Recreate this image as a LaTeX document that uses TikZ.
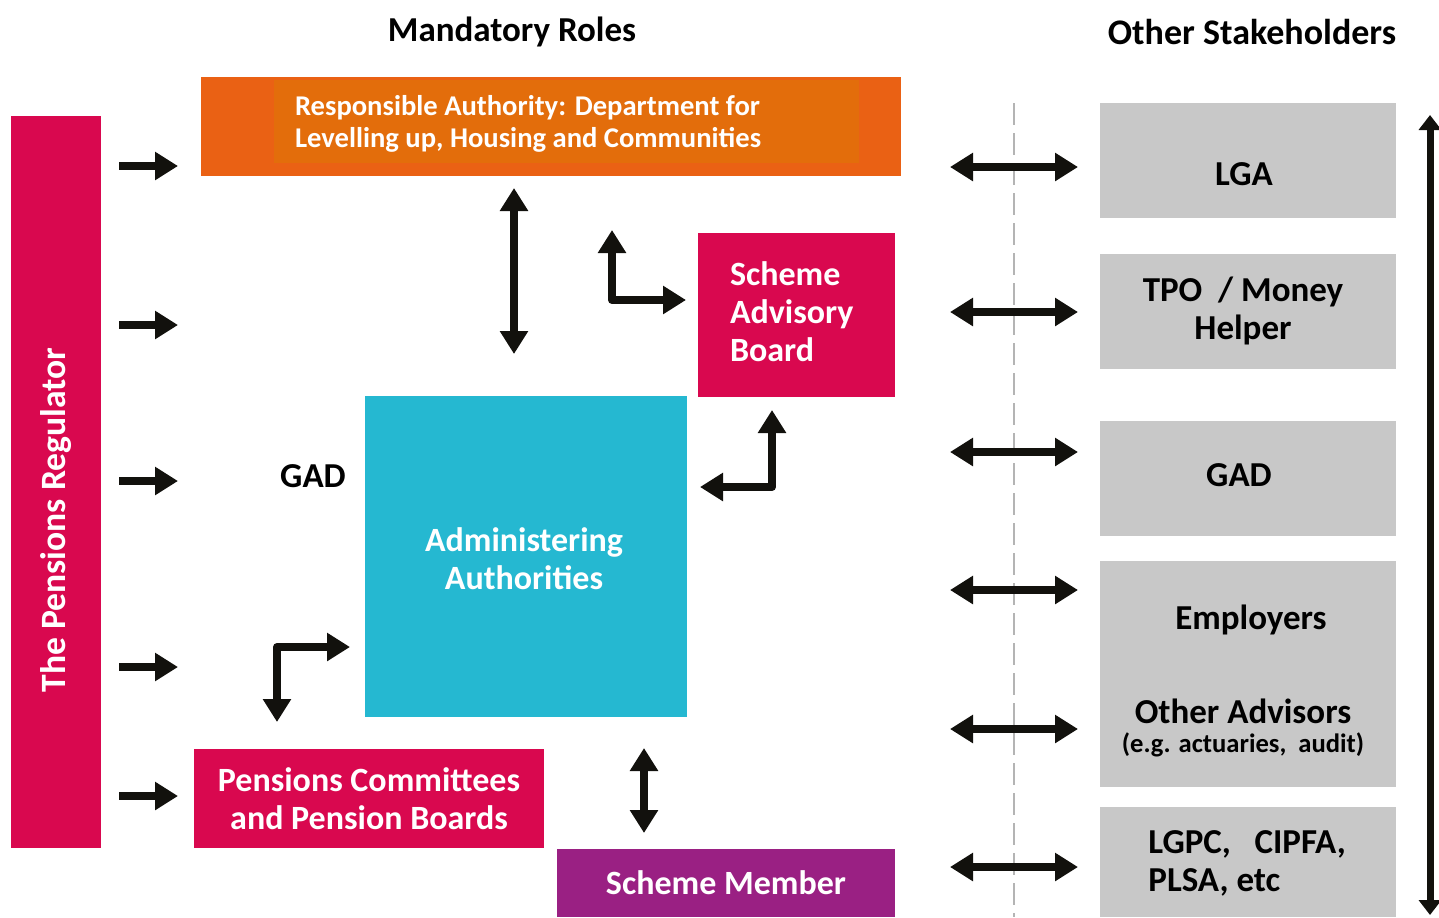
\documentclass[tikz,border=0pt]{standalone}
\usepackage{fontspec}
\setmainfont{Carlito}
\usetikzlibrary{arrows.meta,calc}

\definecolor{crimson}{HTML}{D9084F}
\definecolor{raouter}{HTML}{EA6114}
\definecolor{rainner}{HTML}{E36D0B}
\definecolor{aacyan}{HTML}{25B8D1}
\definecolor{smpurple}{HTML}{9A2083}
\definecolor{shgrey}{HTML}{C8C8C8}
\definecolor{arrowblack}{HTML}{12110D}
\definecolor{dashgrey}{HTML}{B4B4B4}

\begin{document}
\begin{tikzpicture}[x=0.5pt,y=-0.5pt,
		box/.style={inner sep=0pt, outer sep=0pt, text=white, font=\fontsize{17}{19}\selectfont\bfseries},
		shbox/.style={fill=shgrey, inner sep=0pt, outer sep=0pt, minimum width=148pt},
		shtext/.style={font=\fontsize{17.5}{19}\selectfont\bfseries, align=center, inner sep=0pt},
		fat/.style={line width=4pt, draw=arrowblack, line join=round, -{Triangle[width=13.5pt,length=11.5pt]}},
		dbl/.style={fat, {Triangle[width=13.5pt,length=11.5pt]}-{Triangle[width=13.5pt,length=11.5pt]}}]
		\useasboundingbox (0,0) rectangle (1439,917);

		% headers
		\node[shtext] (mr) at (512,32) {Mandatory Roles};
		\node[shtext, font=\fontsize{18}{19}\selectfont\bfseries] (os) at (1252,32) {Other Stakeholders};

		% mandatory roles
		\node[box, fill=crimson, minimum width=45pt, minimum height=366pt] (tpr) at (56,482) {};
		\node[box, rotate=90, font=\fontsize{17.8}{19}\selectfont\bfseries] (tprt) at (56,520) {The Pensions Regulator};

		\node[box, fill=raouter, minimum width=350pt, minimum height=49.5pt] (ra) at (551,126.5) {};
		\node[box, fill=rainner, minimum width=292.5pt, minimum height=41.5pt] (rai) at (566.5,121.5) {};
		\node[box, anchor=west, align=left, font=\fontsize{14.3}{16}\selectfont\bfseries] (rat) at (295,124)
			{Responsible Authority: Department for\\Levelling up, Housing and Communities};

		\node[box, fill=crimson, minimum width=98.5pt, minimum height=82pt] (sab) at (796.5,315) {};
		\node[box, anchor=west, align=left] (sabt) at (730,312) {Scheme\\Advisory\\Board};

		\node[box, fill=aacyan, minimum width=161pt, minimum height=160.5pt] (aa) at (526,556.5) {};
		\node[box, align=center] (aat) at (524,559) {Administering\\Authorities};

		\node[shtext] (gadl) at (313,476) {GAD};

		\node[box, fill=crimson, minimum width=175pt, minimum height=49.5pt, align=center] (pcpb) at (369,798.5)
			{Pensions Committees\\and Pension Boards};

		\node[box, fill=smpurple, minimum width=169pt, minimum height=34pt] (sm) at (726,883) {Scheme Member};

		% other stakeholders
		\node[shbox, minimum height=57.5pt] (lga) at (1248,160.5) {};
		\node[shtext] (lgat) at (1244,174) {LGA};
		\node[shbox, minimum height=57.5pt] (tpo) at (1248,311.5) {};
		\node[shtext] (tpot) at (1243,311) {TPO\ \ / Money\\Helper};
		\node[shbox, minimum height=57.5pt] (gad) at (1248,478.5) {};
		\node[shtext] (gadt) at (1239,475) {GAD};
		\node[shbox, minimum height=113pt] (emp) at (1248,674) {};
		\node[shtext] (empt) at (1251,620) {Employers};
		\node[shtext] (oat) at (1243,711) {Other Advisors};
		\node[shtext, font=\fontsize{13.3}{15}\selectfont\bfseries] (oae) at (1243,745) {(e.g. actuaries,\ \ audit)};
		\node[shbox, minimum height=55pt] (lgpc) at (1248,862) {};
		\node[shtext, anchor=west, align=left] (lgpct) at (1148,863.5) {LGPC,\ \ \ CIPFA,\\PLSA, etc};

		% divider
		\draw[dashgrey, line width=1pt, dash pattern=on 11pt off 4pt] (1014,103) -- (1014,917);

		% regulator arrows
		\foreach \y in {166,325,481,667,796}
			\draw[fat] ($(tpr.east |- 0,\y)+(18,0)$) -- ++(59,0);

		% stakeholder arrows
		\foreach \y in {167,312,452,590,729,867}
			\draw[dbl] ($(lga.west |- 0,\y)+(-22,0)$) -- ++(-128,0);
		\draw[dbl, line width=3.5pt, {Triangle[width=11pt,length=7.5pt]}-{Triangle[width=11pt,length=7.5pt]}]
			($(lga.north east)+(34,12)$) -- ($(lgpc.south east)+(34,-2)$);

		% links between mandatory roles
		\draw[dbl] ($(ra.south)+(-37,12)$) -- ($(aa.north)+(-12,-42)$);
		\path (612,230) coordinate(e1a)
			($(sab.west |- 0,300)+(-12,0)$) coordinate(e1b);
		\draw[dbl] (e1a) |- (e1b);
		\path ($(aa.east |- 0,487)+(13,0)$) coordinate(e2a)
			($(sab.south)+(-24.5,13)$) coordinate(e2b);
		\draw[dbl] (e2a) -| (e2b);
		\path ($(pcpb.north)+(-92,-27)$) coordinate(e3a)
			($(aa.west |- 0,647)+(-15,0)$) coordinate(e3b);
		\draw[dbl] (e3a) |- (e3b);
		\draw[dbl] ($(aa.south -| 0,0)+(644,31)$) -- ($(sm.north -| 0,0)+(644,-16)$);
	\end{tikzpicture}
\end{document}
